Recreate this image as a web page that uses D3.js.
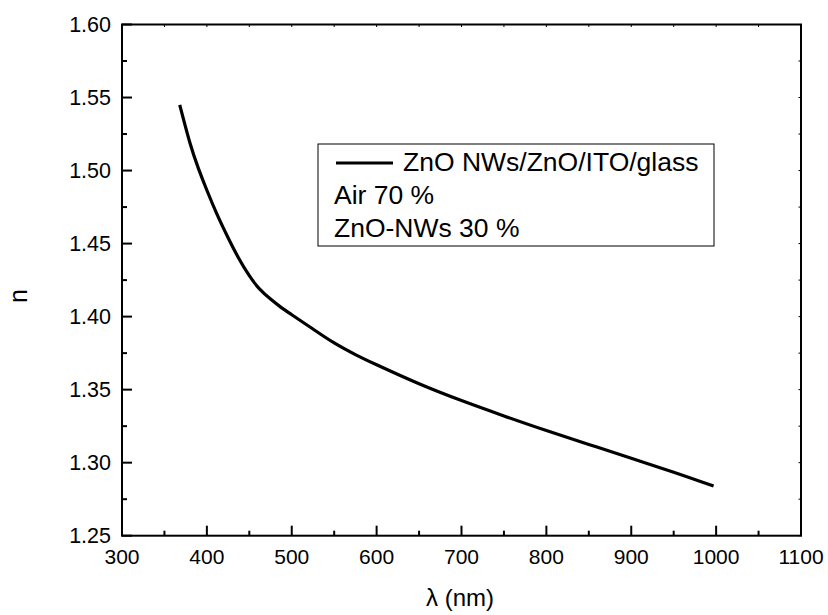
<!DOCTYPE html>
<html>
<head>
<meta charset="utf-8">
<script src="https://cdn.jsdelivr.net/npm/d3@7"></script>
<style>
  html, body { margin: 0; padding: 0; background: #fff; }
  svg { display: block; }
  text { font-family: "Liberation Sans", Arial, sans-serif; fill: #000; }
</style>
</head>
<body>
<svg id="chart" width="828" height="615"></svg>
<script>
// Data
const wavelength = [368, 380, 390, 400, 412, 425, 437, 450, 462, 475, 487, 500, 525, 550, 575, 600, 650, 700, 750, 800, 850, 900, 950, 997];
const refractiveIndex = [1.545, 1.519, 1.5015, 1.4865, 1.470, 1.454, 1.4405, 1.428, 1.419, 1.412, 1.4065, 1.4013, 1.3915, 1.382, 1.374, 1.367, 1.354, 1.3425, 1.332, 1.322, 1.3125, 1.303, 1.2935, 1.284];
const xTicks = [300, 400, 500, 600, 700, 800, 900, 1000, 1100];
const yTicks = [1.25, 1.30, 1.35, 1.40, 1.45, 1.50, 1.55, 1.60];
const legendLines = ["ZnO NWs/ZnO/ITO/glass", "Air 70 %", "ZnO-NWs 30 %"];
const xLabel = "λ (nm)";
const yLabel = "n";

const svg = d3.select("#chart");
const L = 122, R = 801, T = 24.5, B = 535.7;

const x = d3.scaleLinear().domain([300, 1100]).range([L, R]);
const y = d3.scaleLinear().domain([1.25, 1.60]).range([B, T]);

const minorX = d3.range(350, 1100, 100);
const minorY = d3.range(1.275, 1.60, 0.05);

// frame
svg.append("rect").attr("x", L).attr("y", T).attr("width", R - L).attr("height", B - T)
  .attr("fill", "none").attr("stroke", "#000").attr("stroke-width", 2);

const tickG = svg.append("g").attr("stroke", "#000").attr("stroke-width", 2);
xTicks.forEach(v => tickG.append("line").attr("x1", x(v)).attr("x2", x(v)).attr("y1", B).attr("y2", B - 10));
minorX.forEach(v => tickG.append("line").attr("x1", x(v)).attr("x2", x(v)).attr("y1", B).attr("y2", B - 5));
xTicks.concat(minorX).forEach(v => tickG.append("line").attr("x1", x(v)).attr("x2", x(v)).attr("y1", T).attr("y2", T + 2.5).attr("stroke-width", 1));
yTicks.forEach(v => tickG.append("line").attr("x1", L).attr("x2", L + 10).attr("y1", y(v)).attr("y2", y(v)));
minorY.forEach(v => tickG.append("line").attr("x1", L).attr("x2", L + 5).attr("y1", y(v)).attr("y2", y(v)));
yTicks.concat(minorY).forEach(v => tickG.append("line").attr("x1", R).attr("x2", R - 2.5).attr("y1", y(v)).attr("y2", y(v)).attr("stroke-width", 1));

// tick labels
svg.append("g").selectAll("text").data(xTicks).join("text")
  .attr("x", d => x(d)).attr("y", 564).attr("text-anchor", "middle")
  .attr("font-size", 21).text(d => d3.format("d")(d));
svg.append("g").selectAll("text").data(yTicks).join("text")
  .attr("x", 111).attr("y", d => y(d)).attr("dy", "0.36em").attr("text-anchor", "end")
  .attr("font-size", 21.5).text(d => d3.format(".2f")(d));

// axis titles
svg.append("text").attr("x", 460).attr("y", 606).attr("text-anchor", "middle")
  .attr("font-size", 24).text(xLabel);
svg.append("text").attr("transform", "translate(27,296) rotate(-90)").attr("text-anchor", "middle")
  .attr("font-size", 25).text(yLabel);

// curve
const line = d3.line().x((d, i) => x(wavelength[i])).y(d => y(d)).curve(d3.curveNatural);
svg.append("path").datum(refractiveIndex).attr("d", line)
  .attr("fill", "none").attr("stroke", "#000").attr("stroke-width", 3.2);

// legend
const lg = svg.append("g");
lg.append("rect").attr("x", 318).attr("y", 144).attr("width", 396).attr("height", 102)
  .attr("fill", "#fff").attr("stroke", "#000").attr("stroke-width", 1);
lg.append("line").attr("x1", 336).attr("x2", 393).attr("y1", 163).attr("y2", 163)
  .attr("stroke", "#000").attr("stroke-width", 3.2);
lg.append("text").attr("x", 403).attr("y", 171).attr("font-size", 26.5).text(legendLines[0]);
lg.append("text").attr("x", 334).attr("y", 204).attr("font-size", 26.5).text(legendLines[1]);
lg.append("text").attr("x", 334).attr("y", 237).attr("font-size", 26.5).text(legendLines[2]);
</script>
</body>
</html>
